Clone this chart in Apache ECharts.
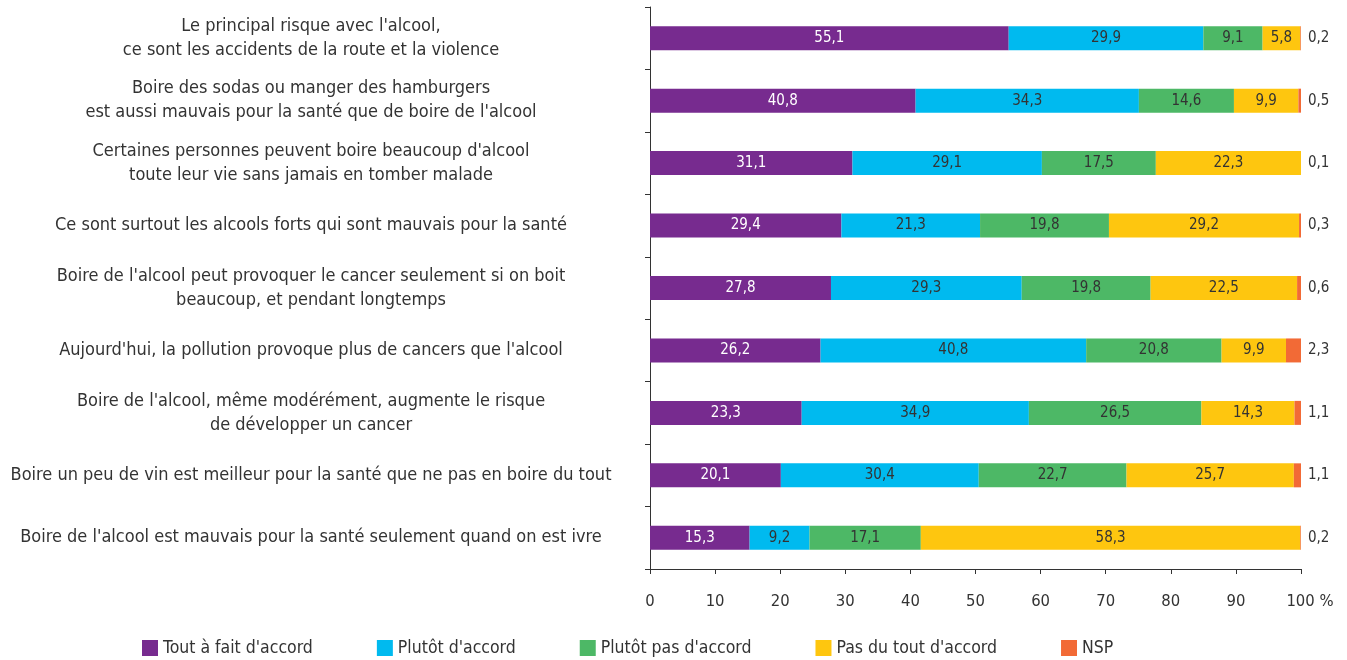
<!DOCTYPE html>
<html>
<head>
<meta charset="utf-8">
<script src="https://cdn.jsdelivr.net/npm/echarts@6/dist/echarts.min.js"></script>
<style>html,body{margin:0;padding:0;background:#fff}#c{width:1347px;height:660px}</style>
</head>
<body>
<div id="c"></div>
<script>
const categories = [
  "Le principal risque avec l'alcool,\nce sont les accidents de la route et la violence",
  "Boire des sodas ou manger des hamburgers\nest aussi mauvais pour la santé que de boire de l'alcool",
  "Certaines personnes peuvent boire beaucoup d'alcool\ntoute leur vie sans jamais en tomber malade",
  "Ce sont surtout les alcools forts qui sont mauvais pour la santé",
  "Boire de l'alcool peut provoquer le cancer seulement si on boit\nbeaucoup, et pendant longtemps",
  "Aujourd'hui, la pollution provoque plus de cancers que l'alcool",
  "Boire de l'alcool, même modérément, augmente le risque\nde développer un cancer",
  "Boire un peu de vin est meilleur pour la santé que ne pas en boire du tout",
  "Boire de l'alcool est mauvais pour la santé seulement quand on est ivre"
];
const seriesNames = ["Tout à fait d'accord", "Plutôt d'accord", "Plutôt pas d'accord", "Pas du tout d'accord", "NSP"];
const toutAFait   = [55.1, 40.8, 31.1, 29.4, 27.8, 26.2, 23.3, 20.1, 15.3];
const plutotAcc   = [29.9, 34.3, 29.1, 21.3, 29.3, 40.8, 34.9, 30.4, 9.2];
const plutotPas   = [9.1, 14.6, 17.5, 19.8, 19.8, 20.8, 26.5, 22.7, 17.1];
const pasDuTout   = [5.8, 9.9, 22.3, 29.2, 22.5, 9.9, 14.3, 25.7, 58.3];
const nsp         = [0.2, 0.5, 0.1, 0.3, 0.6, 2.3, 1.1, 1.1, 0.2];
const xTicks = [0, 10, 20, 30, 40, 50, 60, 70, 80, 90, 100];

const colors = ['#772B8F', '#00BAEF', '#4DB866', '#FEC60F', '#F26A36'];
const FONT = "'DejaVu Sans Condensed', 'Liberation Sans', sans-serif";
const fmt = v => String(v).replace('.', ',');

const values = [toutAFait, plutotAcc, plutotPas, pasDuTout, nsp];
const series = values.map((arr, i) => {
  const isNsp = i === 4;
  return {
    name: seriesNames[i],
    type: 'bar',
    stack: 'total',
    barWidth: 24,
    data: arr,
    itemStyle: { color: colors[i] },
    label: {
      show: true,
      position: isNsp ? 'right' : 'inside',
      distance: 7,
      color: i === 0 ? '#ffffff' : '#333333',
      fontFamily: FONT,
      fontSize: 15,
      formatter: p => fmt(p.value)
    }
  };
});

const chart = echarts.init(document.getElementById('c'), null, { renderer: 'canvas' });
chart.setOption({
  animation: false,
  textStyle: { fontFamily: FONT },
  grid: { left: 650, right: 46, top: 7, bottom: 91, containLabel: false },
  legend: {
    left: 137, top: 634,
    itemWidth: 16, itemHeight: 16, itemGap: 64,
    icon: 'rect',
    textStyle: { fontFamily: FONT, fontSize: 17.5, color: '#333' },
    data: seriesNames
  },
  xAxis: {
    type: 'value', min: 0, max: 100, interval: 10,
    axisLine: { show: true, lineStyle: { color: '#333', width: 1 } },
    axisTick: { show: true, length: 5, lineStyle: { color: '#333' } },
    splitLine: { show: false },
    axisLabel: {
      fontFamily: FONT, fontSize: 16.5, color: '#333', margin: 24,
      formatter: v => v === 100 ? '{p|100 %}' : String(v),
      rich: { p: { fontFamily: FONT, fontSize: 16.5, color: '#333', padding: [0, 0, 0, 18] } }
    }
  },
  yAxis: {
    type: 'category', inverse: true, data: categories,
    axisLine: { show: true, lineStyle: { color: '#333', width: 1 } },
    axisTick: { show: true, length: 5, lineStyle: { color: '#333' } },
    axisLabel: {
      fontFamily: FONT, fontSize: 18, color: '#333', lineHeight: 24,
      align: 'center', margin: 339
    }
  },
  series: series
});
</script>
</body>
</html>
